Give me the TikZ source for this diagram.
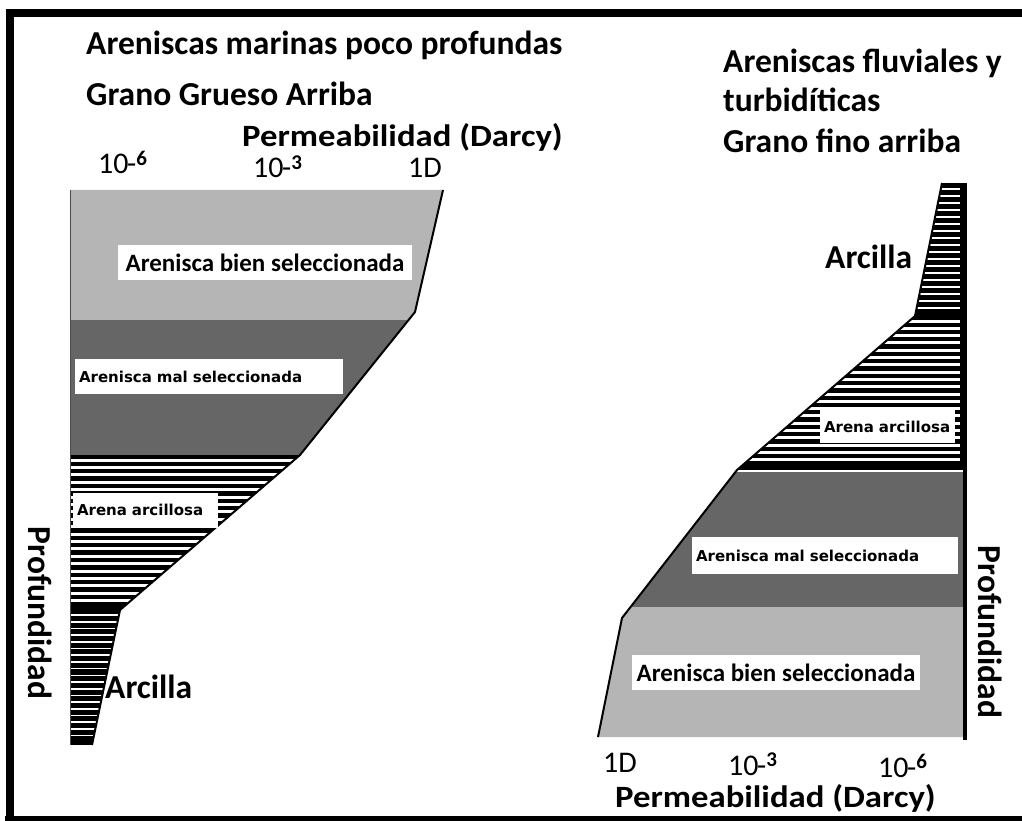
\documentclass[tikz,border=0pt]{standalone}
\usepackage{fontspec}
\setmainfont{Carlito}
\newfontfamily\labelfont{DejaVu Sans}
\usetikzlibrary{positioning}

\definecolor{bienfill}{gray}{0.71}
\definecolor{malfill}{gray}{0.40}
\newcommand{\potencia}[1]{10\kern-1.5pt-\raisebox{0.27em}{\fontsize{21}{21}\selectfont\textbf{#1}}}
\newcommand{\permtexto}{\scalebox{1.12}[1]{Permeabilidad (Darcy)}}

\begin{document}
\begin{tikzpicture}[x=1pt, y=-1pt,
		title/.style={font=\bfseries\fontsize{33.5}{33.5}\selectfont, inner sep=0pt, anchor=base west},
		axistitle/.style={font=\bfseries\fontsize{31}{31}\selectfont, inner sep=0pt, anchor=base west},
		axisnum/.style={font=\fontsize{30}{30}\selectfont, inner sep=0pt, anchor=base west},
		depth/.style={font=\bfseries\fontsize{33.5}{33.5}\selectfont, inner sep=0pt, rotate=-90},
		widelabel/.style={fill=white, font=\bfseries\fontsize{25}{25}\selectfont, inner sep=0pt, minimum height=35pt},
		smalllabel/.style={fill=white, font=\labelfont\bfseries\fontsize{15}{15}\selectfont, inner xsep=4pt, inner ysep=0pt, align=left, minimum height=35pt},
		edge/.style={line width=2pt, line join=round},
		stripe/.style={white, line width=3pt},
		thinstripe/.style={white, line width=1.6pt}
		]
		\useasboundingbox (0,0) rectangle (1022,821);
		\fill[white] (0,0) rectangle (1022,821);
		% frame
		\draw[line width=8pt] (9.5,821) -- (9.5,13.5) -- (1022,13.5);
		\draw[line width=6pt] (5,819) -- (1022,819);

		% left column corners
		\coordinate (lt) at (70,190);
		\coordinate (lr1) at (443,190);
		\coordinate (lr2) at (415,312);
		\coordinate (lr3) at (300,455);
		\coordinate (lr4) at (120,610);
		\coordinate (lr5) at (92,745);
		\coordinate (lb) at (70,745);

		\fill[bienfill] (lt) -- (lr1) -- (lr2) -- (408.6,320) -- (70,320) -- cycle;
		\fill[malfill] (70,320) -- (408.6,320) -- (lr3) -- (70,455) -- cycle;
		\begin{scope}
			\clip (70,455) -- (lr3) -- (lr4) -- (70,610) -- cycle;
			\fill[black] (70,455) rectangle (310,610);
			\foreach \y in {460,467.4,...,607} \draw[stripe] (60,\y) -- (310,\y);
		\end{scope}
		\begin{scope}
			\clip (70,610) -- (lr4) -- (lr5) -- (lb) -- cycle;
			\fill[black] (70,610) rectangle (130,745);
			\foreach \y in {615,621.7,...,742} \draw[thinstripe] (60,\y) -- (130,\y);
		\end{scope}
		\draw[line width=1pt, black!70] (lt) -- (lb);
		\draw[edge] (lr1) -- (lr2) -- (lr3) -- (lr4) -- (lr5);

		% right column corners
		\coordinate (rt) at (966,183);
		\coordinate (rl1) at (942,183);
		\coordinate (rl2) at (915,316);
		\coordinate (rl3) at (737,470);
		\coordinate (rl4) at (622,618);
		\coordinate (rl5) at (598,737);
		\coordinate (rb) at (966,737);

		\begin{scope}
			\clip (rl1) -- (rt) -- (966,316) -- (rl2) -- cycle;
			\fill[black] (900,183) rectangle (966,316);
			\foreach \y in {189,196,...,312} \draw[thinstripe] (900,\y) -- (960,\y);
		\end{scope}
		\begin{scope}
			\clip (rl2) -- (966,316) -- (966,470) -- (rl3) -- cycle;
			\fill[black] (730,316) rectangle (966,470);
			\foreach \y in {321,328.3,...,466} \draw[stripe] (730,\y) -- (960,\y);
		\end{scope}
		\fill[malfill] (735.5,472) -- (966,472) -- (966,607) -- (630.5,607) -- cycle;
		\fill[bienfill] (630.5,607) -- (966,607) -- (rb) -- (rl5) -- (rl4) -- cycle;
		\draw[edge] (rl1) -- (rl2) -- (rl3) -- (rl4) -- (rl5);
		\draw[line width=3.5pt] (965,183) -- (965,740);

		% left titles
		\node at (86,55) [name=titulo marinas, title] {Areniscas marinas poco profundas};
		\node at (86,106) [name=titulo grueso, title] {Grano Grueso Arriba};
		\node at (242,147) [name=perm izq, axistitle] {\permtexto};
		\node at (98,174) [name=izq e6, axisnum] {\potencia{6}};
		\node at (253,178) [name=izq e3, axisnum] {\potencia{3}};
		\node at (408,178) [name=izq 1d, axisnum] {1D};

		% left layer labels
		\node at (265,262.5) [name=izq bien, widelabel, minimum width=294pt] {Arenisca bien seleccionada};
		\node at (209,376.5) [name=izq mal, smalllabel, text width=260pt] {Arenisca mal seleccionada};
		\node at (145.5,510) [name=izq arena, smalllabel, text width=137pt] {Arena arcillosa};
		\node at (105,698) [name=izq arcilla, title] {Arcilla};
		\node at (40,613) [name=prof izq, depth] {Profundidad};

		% right titles
		\node at (723,73) [name=titulo fluviales, title] {Areniscas fluviales y};
		\node at (723,112) [name=titulo turbid, title] {turbidíticas};
		\node at (723,153) [name=titulo fino, title] {Grano fino arriba};
		\node at (825,268) [name=der arcilla, title] {Arcilla};

		% right layer labels
		\node at (887.5,426.5) [name=der arena, smalllabel, text width=127pt, minimum height=33pt] {Arena arcillosa};
		\node at (825,555.5) [name=der mal, smalllabel, text width=258pt, minimum height=37pt] {Arenisca mal seleccionada};
		\node at (776,672.5) [name=der bien, widelabel, minimum width=288pt] {Arenisca bien seleccionada};

		% right axis
		\node at (603,772) [name=der 1d, axisnum] {1D};
		\node at (728,775) [name=der e3, axisnum] {\potencia{3}};
		\node at (878,777) [name=der e6, axisnum] {\potencia{6}};
		\node at (615,807) [name=perm der, axistitle] {\permtexto};
		\node at (990,632) [name=prof der, depth] {Profundidad};
	\end{tikzpicture}
\end{document}
